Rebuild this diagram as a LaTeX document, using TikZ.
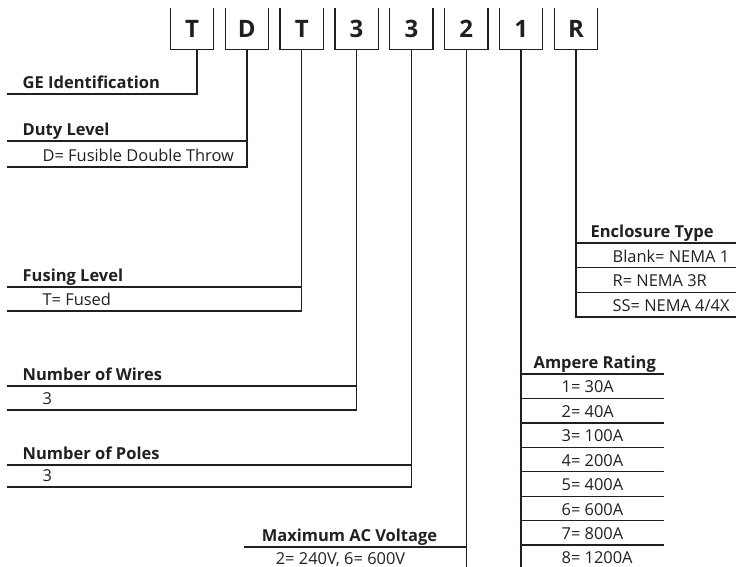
\documentclass[tikz,border=0pt]{standalone}
\usepackage{fontspec}
\setmainfont{Open Sans}
\definecolor{ink}{HTML}{231F20}
\tikzset{
  codebox/.style={inner sep=0pt, minimum width=42pt, minimum height=40pt, font=\bfseries\fontsize{24}{24}\selectfont},
  fieldname/.style={anchor=base west, inner sep=0pt, font=\bfseries\fontsize{16.5}{18}\selectfont},
  fieldval/.style={anchor=base west, inner sep=0pt, font=\fontsize{16.4}{18}\selectfont},
}
\begin{document}
\begin{tikzpicture}[x=1pt, y=-1pt, line width=1.3pt, color=ink]
\useasboundingbox (0,0) rectangle (736,567);
\coordinate (bot) at (0,567);

% catalogue number
\foreach \ch [count=\i] in {T,D,T,3,3,2,1,R}
    \node[codebox] (c\i) at ({192+54.85*(\i-1)},29) {\ch};
\foreach \i in {1,...,8}
    \draw (c\i.north west) |- (c\i.south east) -- (c\i.north east);

% fields on the left
\node[fieldname] (ge) at (22,88.5) {GE Identification};
\draw (7,94) -| ([xshift=5pt]c1.south);

\node[fieldname] (duty) at (22,135.5) {Duty Level};
\node[fieldval] (dutyval) at (42,161.5) {D= Fusible Double Throw};
\draw (7,141) -- (c2.south |- 0,141);
\draw (7,167) -| (c2.south);

\node[fieldname] (fuse) at (22,281.5) {Fusing Level};
\node[fieldval] (fuseval) at (42,305.5) {T= Fused};
\draw (7,287) -- (c3.south |- 0,287);
\draw (7,311) -| (c3.south);

\node[fieldname] (wires) at (22,380.5) {Number of Wires};
\node[fieldval] (wiresval) at (42,404.5) {3};
\draw (7,386) -- (c4.south |- 0,386);
\draw (7,410) -| (c4.south);

\node[fieldname] (poles) at (22,459.5) {Number of Poles};
\node[fieldval] (polesval) at (42,481.5) {3};
\draw (7,465) -- (c5.south |- 0,465);
\draw (7,487) -| (c5.south);

% voltage
\node[fieldname, anchor=base] (volt) at (349.5,541.5) {Maximum AC Voltage};
\node[fieldval, anchor=base] (voltval) at (340.5,564.5) {2= 240V, 6= 600V};
\draw (244,547) -- (c6.south |- 0,547);
\draw (c6.south) -- (c6.south |- bot);

% ampere rating
\node[fieldname] (amp) at (533,368.5) {Ampere Rating};
\foreach \v [count=\k] in {30A,40A,100A,200A,400A,600A,800A,1200A}
    \node[fieldval] (amp\k) at (561,{368.5+24.43*\k}) {\k= \v};
\foreach \k in {0,...,7}
    \draw (c7.south |- 0,{374+24.43*\k}) -- ++(143,0);
\draw (c7.south) -- (c7.south |- bot);

% enclosure
\node[fieldname] (encl) at (590,237.5) {Enclosure Type};
\foreach \t [count=\k] in {Blank= NEMA 1,R= NEMA 3R,SS= NEMA 4/4X}
    \node[fieldval] (encl\k) at (612,{237.5+24.67*\k}) {\t};
\foreach \k in {0,1,2}
    \draw (c8.south |- 0,{243+24.67*\k}) -- (736,{243+24.67*\k});
\draw (c8.south) |- (736,317);
\end{tikzpicture}
\end{document}
